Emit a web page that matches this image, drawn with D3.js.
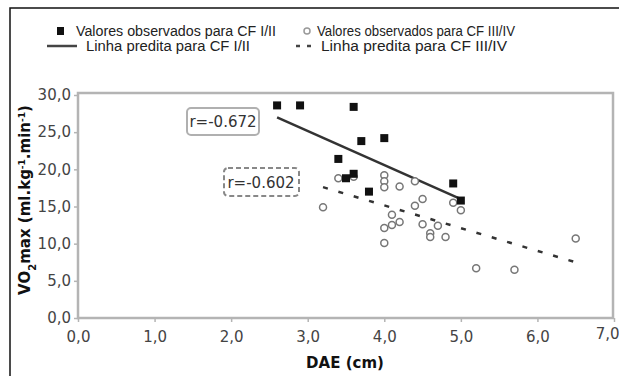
<!DOCTYPE html>
<head>
<meta charset="utf-8">
<title>VO2max x DAE</title>
<style>
  body { margin: 0; background: #fff; }
  svg { display: block; }
  .tick text { font: 15px "DejaVu Sans", sans-serif; fill: #444; }
  .leg { font: 14px "Liberation Sans Narrow", "Liberation Sans", sans-serif; fill: #222; }
  .title { font: bold 15px "DejaVu Sans", sans-serif; fill: #111; }
  .rlab { font: 15px "DejaVu Sans", sans-serif; fill: #333; }
</style>
</head>
<body>
<div id="chart"></div>
<script src="https://d3js.org/d3.v7.min.js"></script>
<script>

  // DAE (cm) and VO2max for CF I/II (filled squares)
  var daeI = [2.6, 2.9, 3.6, 3.7, 4.0, 3.4, 3.5, 3.6, 3.8, 4.9, 5.0];
  var vo2I = [28.6, 28.6, 28.4, 23.8, 24.2, 21.4, 18.8, 19.4, 17.0, 18.1, 15.8];

  // DAE (cm) and VO2max for CF III/IV (open circles)
  var daeIII = [3.2, 3.4, 3.6, 4.0, 4.0, 4.0, 4.2, 4.4, 4.4, 4.5, 4.9, 5.0, 4.1,
                4.0, 4.1, 4.2, 4.0, 4.5, 4.6, 4.6, 4.7, 4.8, 5.2, 5.7, 6.5];
  var vo2III = [14.9, 18.8, 19.0, 19.2, 18.4, 17.6, 17.7, 18.4, 15.1, 16.0, 15.5, 14.5, 13.9,
                12.1, 12.5, 12.9, 10.1, 12.6, 11.4, 10.9, 12.4, 10.9, 6.7, 6.5, 10.7];

  // predicted lines (end points)
  var lineIx = [2.6, 5.0], lineIy = [27.0, 16.0];
  var lineIIIx = [3.2, 6.5], lineIIIy = [17.6, 7.5];

  var xTicks = [0, 1, 2, 3, 4, 5, 6, 7];
  var yTicks = [0, 5, 10, 15, 20, 25, 30];
  var rLabels = ["r=-0.672", "r=-0.602"];

  var width = 619, height = 376;
  var fmt = function(d) { return d3.format(".1f")(d).replace(".", ","); };

  var svg = d3.select("#chart").append("svg")
      .attr("width", width)
      .attr("height", height);

  // outer frame
  svg.append("rect")
      .attr("x", 10).attr("y", 8)
      .attr("width", 700).attr("height", 500)
      .attr("fill", "none")
      .attr("stroke", "#111")
      .attr("stroke-width", 1.5);

  var x = d3.scaleLinear().domain([0, 7]).range([78, 614]);
  var y = d3.scaleLinear().domain([0, 30]).range([318, 95]);

  // plot frame
  svg.append("rect")
      .attr("x", x(0)).attr("y", y(30) - 2)
      .attr("width", x(7) - x(0) - 1).attr("height", y(0) - y(30) + 2)
      .attr("fill", "none")
      .attr("stroke", "#b4b4b4")
      .attr("stroke-width", 2.5);

  var xAxis = svg.append("g")
      .attr("transform", "translate(0," + y(0) + ")")
      .call(d3.axisBottom(x).tickValues(xTicks).tickFormat(fmt).tickSize(4).tickPadding(6));
  var yAxis = svg.append("g")
      .attr("transform", "translate(" + x(0) + ",0)")
      .call(d3.axisLeft(y).tickValues(yTicks).tickFormat(fmt).tickSize(4).tickPadding(3));

  [xAxis, yAxis].forEach(function(a) {
    a.select(".domain").remove();
    a.selectAll(".tick line").attr("stroke", "#b4b4b4").attr("stroke-width", 1.5);
  });
  xAxis.selectAll(".tick text").attr("dy", "0.95em");
  // last label sits against the right edge, a little higher
  xAxis.selectAll(".tick text")
      .filter(function(d) { return d === 7; })
      .attr("text-anchor", "end")
      .attr("x", 5)
      .attr("dy", "0.75em");

  // axis titles
  svg.append("text")
      .attr("class", "title")
      .attr("x", 345).attr("y", 368)
      .attr("text-anchor", "middle")
      .text("DAE  (cm)");

  var yt = svg.append("text")
      .attr("class", "title")
      .attr("transform", "translate(30,200) rotate(-90)")
      .attr("text-anchor", "middle");
  yt.append("tspan").text("VO");
  yt.append("tspan").attr("baseline-shift", "sub").attr("font-size", "10px").text("2");
  yt.append("tspan").text("max  (ml.kg");
  yt.append("tspan").attr("baseline-shift", "super").attr("font-size", "9px").text("-1");
  yt.append("tspan").text(".min");
  yt.append("tspan").attr("baseline-shift", "super").attr("font-size", "9px").text("-1");
  yt.append("tspan").text(")");

  // predicted lines
  var line = d3.line().x(function(d) { return x(d[0]); }).y(function(d) { return y(d[1]); });

  svg.append("path")
      .attr("d", line(d3.zip(lineIx, lineIy)))
      .attr("stroke", "#333")
      .attr("stroke-width", 2.5)
      .attr("fill", "none");

  svg.append("path")
      .attr("d", line(d3.zip(lineIIIx, lineIIIy)))
      .attr("stroke", "#333")
      .attr("stroke-width", 2.5)
      .attr("stroke-dasharray", "5,11")
      .attr("fill", "none");

  // observed CF III/IV
  svg.append("g").selectAll("circle")
      .data(d3.zip(daeIII, vo2III))
      .enter().append("circle")
      .attr("cx", function(d) { return x(d[0]); })
      .attr("cy", function(d) { return y(d[1]); })
      .attr("r", 3.5)
      .attr("fill", "#fff")
      .attr("stroke", "#777")
      .attr("stroke-width", 1.5);

  // observed CF I/II
  svg.append("g").selectAll("rect")
      .data(d3.zip(daeI, vo2I))
      .enter().append("rect")
      .attr("x", function(d) { return x(d[0]) - 4; })
      .attr("y", function(d) { return y(d[1]) - 4; })
      .attr("width", 8).attr("height", 8)
      .attr("fill", "#111");

  // r boxes
  svg.append("rect")
      .attr("x", 187).attr("y", 108).attr("width", 72).attr("height", 27).attr("rx", 4)
      .attr("fill", "#fff").attr("stroke", "#b0b0b0").attr("stroke-width", 2);
  svg.append("text").attr("class", "rlab")
      .attr("x", 223).attr("y", 127).attr("text-anchor", "middle").text(rLabels[0]);

  svg.append("rect")
      .attr("x", 224).attr("y", 168).attr("width", 75).attr("height", 28).attr("rx", 4)
      .attr("fill", "#fff").attr("stroke", "#888").attr("stroke-width", 2)
      .attr("stroke-dasharray", "5,3");
  svg.append("text").attr("class", "rlab")
      .attr("x", 261).attr("y", 188).attr("text-anchor", "middle").text(rLabels[1]);

  // legend
  var leg = svg.append("g");
  leg.append("rect").attr("x", 57).attr("y", 27).attr("width", 7).attr("height", 8).attr("fill", "#111");
  leg.append("text").attr("class", "leg").attr("x", 76).attr("y", 36)
      .attr("textLength", 200).attr("lengthAdjust", "spacingAndGlyphs")
      .text("Valores observados para CF I/II");
  leg.append("circle").attr("cx", 307).attr("cy", 31).attr("r", 3)
      .attr("fill", "#fff").attr("stroke", "#999").attr("stroke-width", 1.5);
  leg.append("text").attr("class", "leg").attr("x", 317).attr("y", 36)
      .attr("textLength", 198).attr("lengthAdjust", "spacingAndGlyphs")
      .text("Valores observados para CF III/IV");

  leg.append("line").attr("x1", 47).attr("x2", 77).attr("y1", 46).attr("y2", 46)
      .attr("stroke", "#444").attr("stroke-width", 2.5);
  leg.append("text").attr("class", "leg").attr("x", 86).attr("y", 51)
      .attr("textLength", 164).attr("lengthAdjust", "spacingAndGlyphs")
      .text("Linha predita para CF I/II");
  leg.append("line").attr("x1", 296).attr("x2", 312).attr("y1", 46).attr("y2", 46)
      .attr("stroke", "#444").attr("stroke-width", 2.5).attr("stroke-dasharray", "4,7");
  leg.append("text").attr("class", "leg").attr("x", 321).attr("y", 51)
      .attr("textLength", 186).attr("lengthAdjust", "spacingAndGlyphs")
      .text("Linha predita para CF III/IV");
</script>
</body>
